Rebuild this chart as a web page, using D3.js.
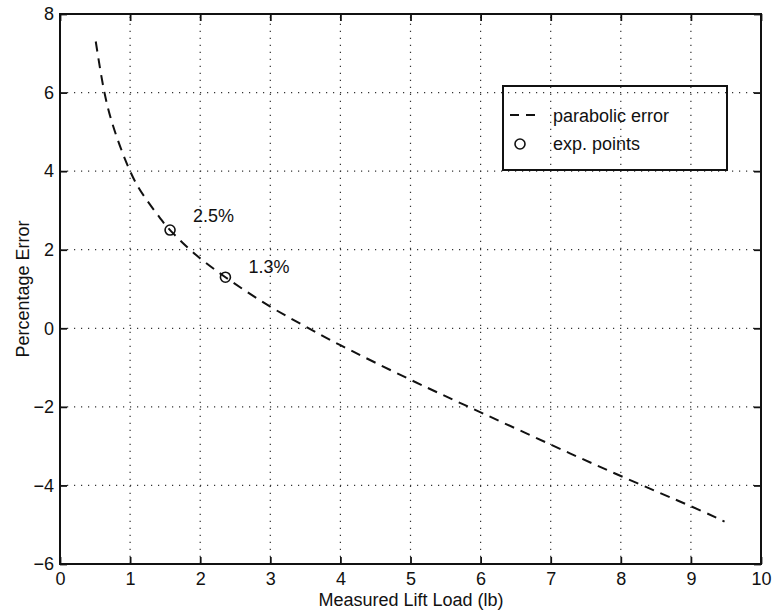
<!DOCTYPE html>
<html>
<head>
<meta charset="utf-8">
<script src="https://cdn.jsdelivr.net/npm/d3@7"></script>
<style>
  body { margin: 0; background: #fff; }
  text { font-family: "Liberation Sans", Arial, Helvetica, sans-serif; fill: #111; }
</style>
</head>
<body>
<svg id="chart" width="775" height="611"></svg>
<script>
// Data
const curveX = [0.51, 0.64, 0.8, 1.0, 1.2, 1.43, 1.57, 1.9, 2.36, 3.0, 3.57, 4.0, 5.0, 6.0, 7.0, 8.0, 9.0, 9.48];
const curveY = [7.3, 5.95, 4.92, 4.0, 3.36, 2.8, 2.5, 1.93, 1.3, 0.55, -0.02, -0.43, -1.31, -2.14, -2.96, -3.76, -4.53, -4.92];
const pointX = [1.57, 2.36];
const pointY = [2.5, 1.3];
const pointLabels = ["2.5%", "1.3%"];
const xTicks = [0, 1, 2, 3, 4, 5, 6, 7, 8, 9, 10];
const yTicks = [-6, -4, -2, 0, 2, 4, 6, 8];
const legendLabels = ["parabolic error", "exp. points"];
const xTitle = "Measured Lift Load (lb)";
const yTitle = "Percentage Error";

const svg = d3.select("#chart");
const L = 60, R = 761, T = 14, B = 564;
const x = d3.scaleLinear().domain([0, 10]).range([L, R]);
const y = d3.scaleLinear().domain([-6, 8]).range([B, T]);
const ink = "#111";
const FS = 18;

// grid
const grid = svg.append("g").attr("stroke", "#333").attr("stroke-width", 1.2)
  .attr("stroke-dasharray", "1.2,5.8");
grid.selectAll("line.vx").data(xTicks.slice(1, -1)).join("line")
  .attr("x1", d => x(d)).attr("x2", d => x(d)).attr("y1", B).attr("y2", T);
grid.selectAll("line.hy").data(yTicks.slice(1, -1)).join("line")
  .attr("y1", d => y(d)).attr("y2", d => y(d)).attr("x1", L).attr("x2", R);

// axes (bottom/left with labels, top/right mirrored ticks)
const tickLen = 7;
const gx = svg.append("g").attr("transform", `translate(0,${B})`)
  .call(d3.axisBottom(x).tickValues(xTicks).tickSize(-tickLen).tickPadding(12).tickFormat(d3.format("d")));
const gxt = svg.append("g").attr("transform", `translate(0,${T})`)
  .call(d3.axisTop(x).tickValues(xTicks).tickSize(-tickLen).tickFormat(""));
const gy = svg.append("g").attr("transform", `translate(${L},0)`)
  .call(d3.axisLeft(y).tickValues(yTicks).tickSize(-tickLen).tickPadding(6)
    .tickFormat(d => d < 0 ? "\u2212" + Math.abs(d) : d));
const gyr = svg.append("g").attr("transform", `translate(${R},0)`)
  .call(d3.axisRight(y).tickValues(yTicks).tickSize(-tickLen).tickFormat(""));
[gx, gxt, gy, gyr].forEach(g => {
  g.select(".domain").remove();
  g.selectAll(".tick line").attr("stroke", ink).attr("stroke-width", 1.8);
  g.selectAll("text").attr("font-size", FS).attr("fill", ink)
    .style("font-family", "'Liberation Sans', Arial, sans-serif");
});
gx.selectAll("text").attr("dy", "0.5em");

// box
svg.append("rect").attr("x", L).attr("y", T).attr("width", R - L).attr("height", B - T)
  .attr("fill", "none").attr("stroke", ink).attr("stroke-width", 2);

// curve
const pts = curveX.map((d, i) => [d, curveY[i]]);
svg.append("path").datum(pts)
  .attr("d", d3.line().x(d => x(d[0])).y(d => y(d[1])).curve(d3.curveNatural))
  .attr("fill", "none").attr("stroke", ink).attr("stroke-width", 2)
  .attr("stroke-dasharray", "10,7");

// points
const pdata = pointX.map((d, i) => ({ x: d, y: pointY[i], label: pointLabels[i] }));
const labelDy = [-8, -4];
svg.selectAll("circle.pt").data(pdata).join("circle")
  .attr("cx", d => x(d.x)).attr("cy", d => y(d.y)).attr("r", 5)
  .attr("fill", "none").attr("stroke", ink).attr("stroke-width", 1.6);
svg.selectAll("text.lab").data(pdata).join("text")
  .attr("x", d => x(d.x) + 23).attr("y", (d, i) => y(d.y) + labelDy[i])
  .attr("font-size", FS).text(d => d.label);

// legend
const lg = svg.append("g");
lg.append("rect").attr("x", 503).attr("y", 86).attr("width", 224).attr("height", 84)
  .attr("fill", "none").attr("stroke", ink).attr("stroke-width", 2);
lg.append("line").attr("x1", 510).attr("x2", 536).attr("y1", 115).attr("y2", 115)
  .attr("stroke", ink).attr("stroke-width", 2).attr("stroke-dasharray", "9,7");
lg.append("circle").attr("cx", 520).attr("cy", 144).attr("r", 5)
  .attr("fill", "none").attr("stroke", ink).attr("stroke-width", 1.6);
lg.selectAll("text").data(legendLabels).join("text")
  .attr("x", 553).attr("y", (d, i) => 121.5 + i * 28).attr("font-size", FS).text(d => d);

// titles
svg.append("text").attr("x", 411).attr("y", 606).attr("text-anchor", "middle")
  .attr("font-size", FS).text(xTitle);
svg.append("text").attr("transform", `translate(29,${(T + B) / 2}) rotate(-90)`)
  .attr("text-anchor", "middle").attr("font-size", FS).text(yTitle);
</script>
</body>
</html>
